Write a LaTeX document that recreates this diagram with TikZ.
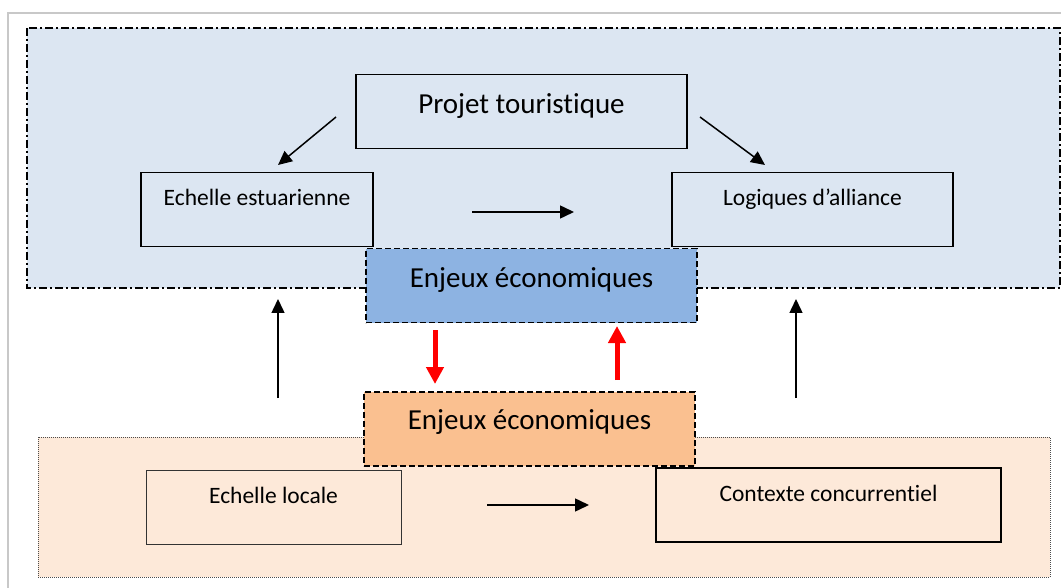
\documentclass[tikz,border=0pt]{standalone}
\usepackage{fontspec}
\setmainfont[Ligatures=NoCommon]{Carlito}
\usetikzlibrary{arrows.meta,calc}
\definecolor{topbg}{HTML}{DCE6F2}
\definecolor{botbg}{HTML}{FDE9D9}
\definecolor{bluebox}{HTML}{8DB3E2}
\definecolor{orangebox}{HTML}{FAC090}
\definecolor{framegray}{HTML}{C8C8C8}
\begin{document}
\begin{tikzpicture}[x=1pt,y=-1pt,
  box/.style={draw=black,line width=1.4pt,rectangle,inner xsep=0pt,inner ysep=0pt,anchor=north,
    font=\fontsize{23.5}{28}\selectfont,text height=33pt,text depth=41pt},
  bigbox/.style={box,font=\fontsize{29}{34}\selectfont,text height=39pt,text depth=35pt},
  enjeux/.style={bigbox,dashed,dash pattern=on 6pt off 3pt,line width=1.5pt},
  blk/.style={line width=1.5pt,-{Triangle[length=14pt,width=13pt]}},
  redarr/.style={red,line width=5pt,-{Triangle[length=17pt,width=17pt]}}]
\useasboundingbox (0,0) rectangle (1061,588);
\fill[white] (0,0) rectangle (1061,588);
% outer frame
\draw[framegray,line width=1.5pt] (8,600) -- (8,13) -- (1075,13);
% background zones
\draw[fill=topbg,line width=1.3pt,dash pattern=on 8pt off 3pt on 2pt off 3pt] (27,28) rectangle (1060,288);
\draw[fill=botbg,draw=black!70,line width=0.8pt,dash pattern=on 1pt off 1pt] (38,437) rectangle (1050,577);
% nodes
\node[bigbox,minimum width=331pt] (proj) at (521.5,74) {Projet touristique};
\node[box,minimum width=232pt] (estu) at (257,172) {Echelle estuarienne};
\node[box,minimum width=281pt] (alli) at (812.5,172) {Logiques d’alliance};
\node[enjeux,fill=bluebox,minimum width=331pt] (enjB) at (531.5,248) {Enjeux économiques};
\node[enjeux,fill=orangebox,minimum width=331pt,text height=38pt,text depth=36pt] (enjO) at (529.5,391) {Enjeux économiques};
\node[box,line width=1pt,draw=black!80,minimum width=255pt,text height=33pt,text depth=41pt] (loc) at (273.5,470) {Echelle locale};
\node[box,line width=2pt,minimum width=345pt] (conc) at (828.5,467) {Contexte concurrentiel};
% connector end points
\coordinate (p1s) at (336,117); \coordinate (p1e) at (278,165);
\coordinate (p2s) at (700,117); \coordinate (p2e) at (765,165);
\coordinate (h1s) at (472,212); \coordinate (h1e) at (574,212);
\coordinate (h2s) at (487,505); \coordinate (h2e) at (589,505);
\coordinate (u1s) at (278,398); \coordinate (u1e) at (278,299);
\coordinate (u2s) at (796,398); \coordinate (u2e) at (796,299);
\coordinate (r1s) at (435,330); \coordinate (r1e) at (435,384);
\coordinate (r2s) at (617,380); \coordinate (r2e) at (617,326);
\draw[blk] (p1s) -- (p1e);
\draw[blk] (p2s) -- (p2e);
\draw[blk] (h1s) -- (h1e);
\draw[blk] (h2s) -- (h2e);
\draw[blk] (u1s) -- (u1e);
\draw[blk] (u2s) -- (u2e);
\draw[redarr] (r1s) -- (r1e);
\draw[redarr] (r2s) -- (r2e);
\end{tikzpicture}
\end{document}
